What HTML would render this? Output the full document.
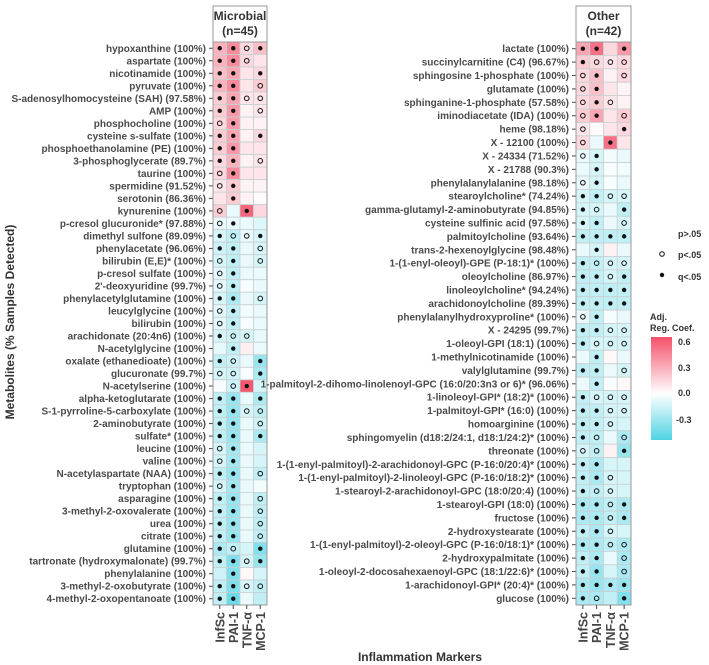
<!DOCTYPE html>
<html><head><meta charset="utf-8"><style>
body{margin:0;background:#fff;}
svg{display:block;font-family:"Liberation Sans",sans-serif;}
</style></head><body>
<svg id="chart" width="709" height="665" viewBox="0 0 709 665" xmlns="http://www.w3.org/2000/svg">
<text transform="translate(14,322) rotate(-90)" text-anchor="middle" font-size="12" font-weight="bold" fill="#333">Metabolites (% Samples Detected)</text>
<text x="420" y="661" text-anchor="middle" font-size="12" font-weight="bold" fill="#333">Inflammation Markers</text>
<g>
<text x="678" y="237" font-size="9" font-weight="bold" fill="#333">p&gt;.05</text>
<circle cx="662" cy="254" r="2.3" fill="#fff" stroke="#111" stroke-width="1"/>
<text x="678" y="258" font-size="9" font-weight="bold" fill="#333">p&lt;.05</text>
<circle cx="662" cy="275" r="2.2" fill="#111"/>
<text x="678" y="280" font-size="9" font-weight="bold" fill="#333">q&lt;.05</text>
</g>
<g>
<defs><linearGradient id="cg" x1="0" y1="0" x2="0" y2="1">
<stop offset="0" stop-color="#f4506a"/><stop offset="0.55" stop-color="#ffffff"/><stop offset="1" stop-color="#4fd3e4"/></linearGradient></defs>
<text x="650" y="320" font-size="9" font-weight="bold" fill="#333">Adj.</text>
<text x="650" y="331" font-size="9" font-weight="bold" fill="#333">Reg. Coef.</text>
<rect x="651" y="337" width="21" height="103" fill="url(#cg)"/>
<text x="678" y="345" font-size="9" font-weight="bold" fill="#333">0.6</text>
<text x="678" y="371" font-size="9" font-weight="bold" fill="#333">0.3</text>
<text x="678" y="396" font-size="9" font-weight="bold" fill="#333">0.0</text>
<text x="676" y="423" font-size="9" font-weight="bold" fill="#333">-0.3</text>
</g>
<g id="panels"></g>
</svg>
<script>
const markers = ["InfSc","PAI-1","TNF-α","MCP-1"];
const leftNames = ["hypoxanthine (100%)","aspartate (100%)","nicotinamide (100%)","pyruvate (100%)","S-adenosylhomocysteine (SAH) (97.58%)","AMP (100%)","phosphocholine (100%)","cysteine s-sulfate (100%)","phosphoethanolamine (PE) (100%)","3-phosphoglycerate (89.7%)","taurine (100%)","spermidine (91.52%)","serotonin (86.36%)","kynurenine (100%)","p-cresol glucuronide* (97.88%)","dimethyl sulfone (89.09%)","phenylacetate (96.06%)","bilirubin (E,E)* (100%)","p-cresol sulfate (100%)","2'-deoxyuridine (99.7%)","phenylacetylglutamine (100%)","leucylglycine (100%)","bilirubin (100%)","arachidonate (20:4n6) (100%)","N-acetylglycine (100%)","oxalate (ethanedioate) (100%)","glucuronate (99.7%)","N-acetylserine (100%)","alpha-ketoglutarate (100%)","S-1-pyrroline-5-carboxylate (100%)","2-aminobutyrate (100%)","sulfate* (100%)","leucine (100%)","valine (100%)","N-acetylaspartate (NAA) (100%)","tryptophan (100%)","asparagine (100%)","3-methyl-2-oxovalerate (100%)","urea (100%)","citrate (100%)","glutamine (100%)","tartronate (hydroxymalonate) (99.7%)","phenylalanine (100%)","3-methyl-2-oxobutyrate (100%)","4-methyl-2-oxopentanoate (100%)"];
const leftCoef = [[0.3,0.45,0.15,0.25],[0.3,0.45,0.15,0.1],[0.25,0.35,0.1,0.15],[0.3,0.45,0.1,0.2],[0.2,0.35,0.1,0.1],[0.2,0.4,0.05,0.1],[0.15,0.4,0.05,0.05],[0.2,0.35,0.05,0.15],[0.2,0.4,0.1,0.1],[0.15,0.3,0.05,0.1],[0.15,0.45,0.1,0.1],[0.1,0.2,0.05,0.05],[0.1,0.2,0.05,0.02],[0.2,-0.05,0.6,0.15],[-0.05,-0.05,-0.05,-0.08],[-0.1,-0.15,-0.05,-0.1],[-0.12,-0.15,-0.05,-0.1],[-0.1,-0.15,-0.05,-0.1],[-0.07,-0.15,-0.05,-0.05],[-0.07,-0.15,-0.02,-0.05],[-0.1,-0.2,-0.05,-0.1],[-0.07,-0.15,-0.03,-0.05],[-0.07,-0.15,-0.02,-0.05],[-0.1,-0.12,-0.1,-0.06],[-0.06,-0.15,0.06,-0.05],[-0.15,-0.12,-0.05,-0.25],[-0.1,-0.12,-0.02,-0.2],[-0.02,-0.12,0.65,-0.1],[-0.15,-0.25,-0.05,-0.2],[-0.15,-0.25,-0.1,-0.15],[-0.15,-0.25,-0.05,-0.12],[-0.15,-0.25,-0.05,-0.2],[-0.1,-0.22,-0.05,-0.1],[-0.1,-0.22,-0.05,-0.1],[-0.15,-0.25,-0.05,-0.15],[-0.1,-0.22,-0.05,-0.03],[-0.15,-0.25,-0.05,-0.15],[-0.15,-0.25,-0.05,-0.15],[-0.15,-0.25,-0.05,-0.15],[-0.15,-0.25,-0.05,-0.15],[-0.2,-0.15,-0.1,-0.3],[-0.15,-0.3,-0.1,-0.25],[-0.12,-0.3,0.03,-0.1],[-0.15,-0.3,-0.1,-0.15],[-0.15,-0.35,-0.05,-0.15]];
const leftSig = [[2,2,1,2],[2,2,1,0],[2,2,0,2],[2,2,0,1],[2,2,1,1],[2,2,0,1],[1,2,0,0],[2,2,0,2],[2,2,0,0],[2,2,0,1],[1,2,0,0],[1,2,0,0],[0,2,0,0],[1,0,2,0],[1,2,0,0],[2,1,1,2],[2,2,0,1],[1,2,0,1],[1,2,0,0],[1,2,0,0],[2,2,0,1],[1,2,0,0],[1,2,0,0],[2,1,1,0],[0,2,0,0],[2,1,0,2],[1,1,0,2],[0,1,2,0],[2,2,0,2],[2,2,1,1],[2,2,0,1],[2,2,0,2],[1,2,0,0],[1,2,0,0],[2,2,0,1],[1,2,0,0],[2,2,0,1],[2,2,0,1],[2,2,0,1],[2,2,0,1],[2,1,0,2],[2,2,1,2],[0,2,0,0],[2,2,1,1],[2,2,0,0]];
const rightNames = ["lactate (100%)","succinylcarnitine (C4) (96.67%)","sphingosine 1-phosphate (100%)","glutamate (100%)","sphinganine-1-phosphate (57.58%)","iminodiacetate (IDA) (100%)","heme (98.18%)","X - 12100 (100%)","X - 24334 (71.52%)","X - 21788 (90.3%)","phenylalanylalanine (98.18%)","stearoylcholine* (74.24%)","gamma-glutamyl-2-aminobutyrate (94.85%)","cysteine sulfinic acid (97.58%)","palmitoylcholine (93.64%)","trans-2-hexenoylglycine (98.48%)","1-(1-enyl-oleoyl)-GPE (P-18:1)* (100%)","oleoylcholine (86.97%)","linoleoylcholine* (94.24%)","arachidonoylcholine (89.39%)","phenylalanylhydroxyproline* (100%)","X - 24295 (99.7%)","1-oleoyl-GPI (18:1) (100%)","1-methylnicotinamide (100%)","valylglutamine (99.7%)","1-palmitoyl-2-dihomo-linolenoyl-GPC (16:0/20:3n3 or 6)* (96.06%)","1-linoleoyl-GPI* (18:2)* (100%)","1-palmitoyl-GPI* (16:0) (100%)","homoarginine (100%)","sphingomyelin (d18:2/24:1, d18:1/24:2)* (100%)","threonate (100%)","1-(1-enyl-palmitoyl)-2-arachidonoyl-GPC (P-16:0/20:4)* (100%)","1-(1-enyl-palmitoyl)-2-linoleoyl-GPC (P-16:0/18:2)* (100%)","1-stearoyl-2-arachidonoyl-GPC (18:0/20:4) (100%)","1-stearoyl-GPI (18:0) (100%)","fructose (100%)","2-hydroxystearate (100%)","1-(1-enyl-palmitoyl)-2-oleoyl-GPC (P-16:0/18:1)* (100%)","2-hydroxypalmitate (100%)","1-oleoyl-2-docosahexaenoyl-GPC (18:1/22:6)* (100%)","1-arachidonoyl-GPI* (20:4)* (100%)","glucose (100%)"];
const rightCoef = [[0.35,0.55,0.15,0.4],[0.2,0.15,0.1,0.15],[0.15,0.25,0.05,0.15],[0.15,0.25,0.1,0.05],[0.15,0.2,0.1,0.05],[0.2,0.35,0.1,0.2],[0.1,0.02,0.1,0.15],[0.15,-0.05,0.55,0.1],[-0.05,-0.1,-0.03,-0.05],[-0.05,-0.1,-0.02,-0.03],[-0.05,-0.1,-0.02,-0.05],[-0.1,-0.15,-0.1,-0.1],[-0.1,-0.1,-0.05,-0.15],[-0.1,-0.15,-0.05,-0.1],[-0.15,-0.15,-0.15,-0.15],[-0.05,-0.1,0.05,-0.05],[-0.15,-0.15,-0.1,-0.1],[-0.15,-0.15,-0.1,-0.15],[-0.15,-0.15,-0.15,-0.15],[-0.15,-0.15,-0.15,-0.15],[-0.05,-0.15,-0.02,-0.05],[-0.15,-0.15,-0.1,-0.1],[-0.15,-0.1,-0.1,-0.1],[-0.05,-0.15,0.03,-0.05],[-0.15,-0.15,-0.05,-0.1],[-0.05,-0.15,-0.02,0.03],[-0.15,-0.1,-0.1,-0.1],[-0.15,-0.15,-0.1,-0.1],[-0.15,-0.15,-0.1,-0.1],[-0.15,-0.15,-0.05,-0.2],[-0.1,-0.15,0.05,-0.25],[-0.15,-0.2,-0.1,-0.1],[-0.15,-0.2,-0.1,-0.1],[-0.15,-0.15,-0.1,-0.1],[-0.2,-0.2,-0.15,-0.2],[-0.2,-0.2,-0.15,-0.2],[-0.15,-0.2,-0.1,-0.1],[-0.2,-0.2,-0.15,-0.2],[-0.15,-0.2,-0.05,-0.2],[-0.15,-0.25,-0.1,-0.2],[-0.2,-0.25,-0.2,-0.25],[-0.2,-0.2,-0.15,-0.3]];
const rightSig = [[2,2,0,2],[2,1,1,1],[1,2,0,1],[1,2,0,0],[1,2,1,0],[1,2,0,1],[1,0,0,2],[1,0,2,0],[1,2,0,0],[0,2,0,0],[1,2,0,0],[2,2,1,1],[2,1,0,2],[2,2,0,1],[2,2,2,2],[0,2,0,0],[2,1,1,1],[2,2,1,2],[2,2,2,2],[2,2,2,2],[1,2,0,0],[2,2,1,1],[2,1,1,1],[0,2,0,0],[2,2,0,1],[0,2,0,0],[2,1,1,1],[2,2,1,1],[2,2,1,0],[2,1,0,1],[1,1,0,2],[2,2,0,0],[2,2,1,0],[2,1,1,0],[2,2,1,2],[2,2,1,2],[2,2,1,0],[2,2,1,1],[2,2,0,1],[2,2,0,1],[2,2,2,2],[2,1,0,2]];

const NS = "http://www.w3.org/2000/svg";
function mk(tag, attrs, parent){const e=document.createElementNS(NS,tag);for(const k in attrs)e.setAttribute(k,attrs[k]);parent.appendChild(e);return e;}
function mix(a,b,t){return a.map((v,i)=>Math.round(v+(b[i]-v)*t));}
function color(v){
  const w=[255,255,255],r=[244,80,106],c=[79,211,228];
  let rgb = v>=0 ? mix(w,r,Math.min(1,v/0.68)) : mix(w,c,Math.min(1,-v/0.42));
  return "rgb("+rgb.join(",")+")";
}
const root=document.getElementById("panels");
function panel(title,n,x0,cw,names,coef,sig,key){
  const top=42,bottom=605, rh=(bottom-top)/names.length, w=cw*4;
  const g=mk("g",{},root);
  
  
  const strip=mk("rect",{x:x0,y:6,width:w,height:top-6,fill:"#fff",stroke:"#999","stroke-width":1},g);
  
  
  const t1=mk("text",{x:x0+w/2,y:20,"text-anchor":"middle","font-size":12,"font-weight":"bold",fill:"#333"},g);t1.textContent=title;
  
  
  const t2=mk("text",{x:x0+w/2,y:35,"text-anchor":"middle","font-size":12,"font-weight":"bold",fill:"#333"},g);t2.textContent="(n="+n+")";
  
  
  names.forEach((nm,i)=>{
    const y=top+i*rh, cy=y+rh/2;
    const lab=mk("text",{x:x0-7,y:cy+3.5,"text-anchor":"end","font-size":10,"font-weight":"bold",fill:"#4a4a4a"},g);lab.textContent=nm;
    
    
    mk("line",{x1:x0-4,x2:x0,y1:cy,y2:cy,stroke:"#444","stroke-width":1},g);
    for(let j=0;j<4;j++){
      const cx=x0+j*cw;
      const cell=mk("rect",{x:cx,y:y,width:cw,height:rh,fill:color(coef[i][j]),stroke:"#c8d0d2","stroke-width":0.8},g);
      
      
      const s=sig[i][j];
      if(s===2){const d=mk("circle",{cx:cx+cw/2,cy:cy,r:2.2,fill:"#111"},g);
        
        }
      else if(s===1){const d=mk("circle",{cx:cx+cw/2,cy:cy,r:2.3,fill:"none",stroke:"#111","stroke-width":1},g);
        
        }
    }
  });
  mk("rect",{x:x0,y:top,width:w,height:bottom-top,fill:"none",stroke:"#999","stroke-width":1},g);
  markers.forEach((m,j)=>{
    const cx=x0+j*cw+cw/2;
    mk("line",{x1:cx,x2:cx,y1:bottom,y2:bottom+4,stroke:"#444","stroke-width":1},g);
    const t=mk("text",{transform:"translate("+(cx+4.5)+","+(bottom+7)+") rotate(-90)","text-anchor":"end","font-size":12.5,"font-weight":"bold",fill:"#444"},g);t.textContent=m;
    
    
  });
}
panel("Microbial",45,213,13.5,leftNames,leftCoef,leftSig,"microbial");
panel("Other",42,576,13.75,rightNames,rightCoef,rightSig,"other");
</script>
</body></html>
